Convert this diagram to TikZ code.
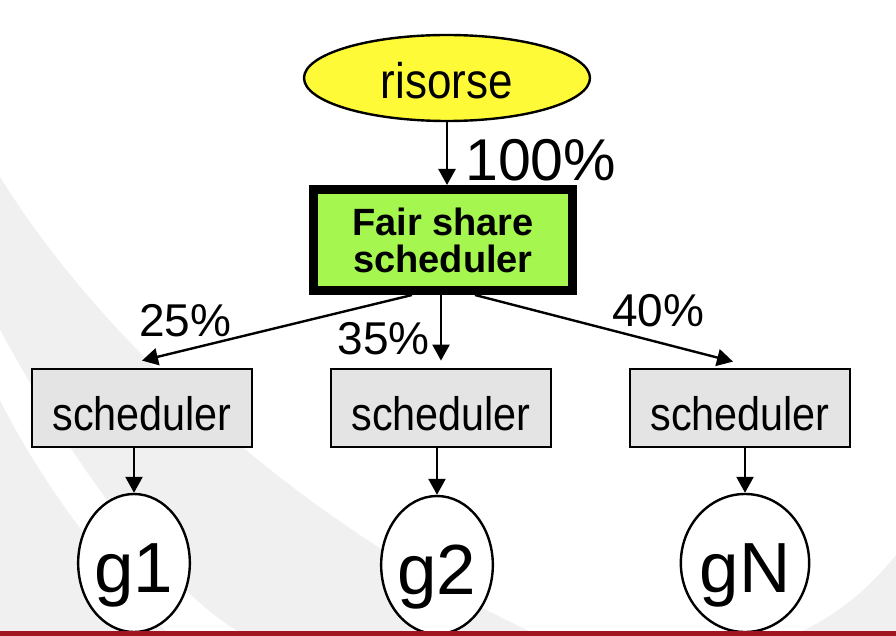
\documentclass[tikz,border=0pt]{standalone}
\usepackage{fontspec}
\setmainfont{Liberation Sans}
\newfontfamily\condfont[FakeStretch=0.88]{Liberation Sans}
\usetikzlibrary{positioning,shapes.geometric,arrows.meta}
\definecolor{fsgreen}{RGB}{166,246,80}
\definecolor{resyellow}{RGB}{255,250,55}
\definecolor{schedgray}{RGB}{228,228,228}
\definecolor{bgswoosh}{RGB}{240,240,240}
\definecolor{barred}{RGB}{160,22,32}

\begin{document}
\begin{tikzpicture}[
                        x=1pt, y=-1pt,
                        node distance=299pt,
                        >={Triangle[length=16pt,width=17pt]},
                        line width=2.4pt,
                        sched/.style={rectangle, draw, fill=schedgray, line width=2.8pt, minimum width=220pt, minimum height=78pt, inner sep=0pt, text height=44pt, text depth=0pt, font=\condfont\fontsize{47}{47}\selectfont},
                        grp/.style={ellipse, draw, fill=white, minimum width=110pt, minimum height=138pt, inner sep=0pt, text height=58pt, text depth=0pt, font=\fontsize{71}{71}\selectfont},
                        pct/.style={inner sep=0pt, font=\fontsize{46}{46}\selectfont}
                    ]
                    % Background
                    \useasboundingbox (0,0) rectangle (896,636);
                    \fill[white] (0,0) rectangle (896,636);
                    \fill[bgswoosh] (0,177) .. controls (120,370) and (340,546) .. (540,636) -- (0,636) -- cycle;
                    \fill[white] (0,330) .. controls (60,440) and (150,580) .. (245,636) -- (170,636) .. controls (100,560) and (40,480) .. (0,400) -- cycle;
                    \fill[bgswoosh] (896,555) .. controls (860,600) and (820,625) .. (790,636) -- (896,636) -- cycle;

                    % Blocks
                    \node [ellipse, draw, fill=resyellow, minimum width=286pt, minimum height=86pt, inner sep=0pt, text height=42pt, text depth=0pt, font=\condfont\fontsize{50}{50}\selectfont] (risorse) at (447,78) {risorse};
                    \node [rectangle, draw, fill=fsgreen, line width=9pt, minimum width=259pt, minimum height=101pt, align=center, font=\bfseries\fontsize{38}{37}\selectfont, below of=risorse, node distance=162pt, xshift=-4pt] (fss) {Fair share\\scheduler};
                    \node [sched, below of=fss, node distance=168pt, xshift=-2pt] (s2) {scheduler};
                    \node [sched, left of=s2] (s1) {scheduler};
                    \node [sched, right of=s2] (s3) {scheduler};
                    \node [grp, below of=s1, node distance=155pt, xshift=-8pt] (g1) {g1};
                    \node [grp, below of=s2, node distance=157pt, xshift=-4pt] (g2) {g2};
                    \node [grp, below of=s3, node distance=155pt, xshift=5pt] (gN) {gN};

                    % Connections
                    \draw [->] (risorse.south) --node[pct, pos=0.61, right=17pt, font=\fontsize{59}{59}\selectfont]{100\%} (risorse.south |- fss.north);
                    \draw [->] ([xshift=-31pt]fss.south) --node[pct, pos=0.84, above=12pt]{25\%} ([yshift=7pt]s1.north);
                    \draw [->] (s2.north |- fss.south) --node[pct, pos=0.67, left=10pt]{35\%} ([yshift=7pt]s2.north);
                    \draw [->] ([xshift=32pt]fss.south) --node[pct, pos=0.71, above=14pt]{40\%} ([xshift=-7pt,yshift=6pt]s3.north);
                    \draw [->] (g1.north |- s1.south) -- (g1.north);
                    \draw [->] (g2.north |- s2.south) -- (g2.north);
                    \draw [->] (gN.north |- s3.south) -- (gN.north);

                    % Bottom bar
                    \fill[barred] (0,631) rectangle (896,636);
                \end{tikzpicture}
\end{document}
